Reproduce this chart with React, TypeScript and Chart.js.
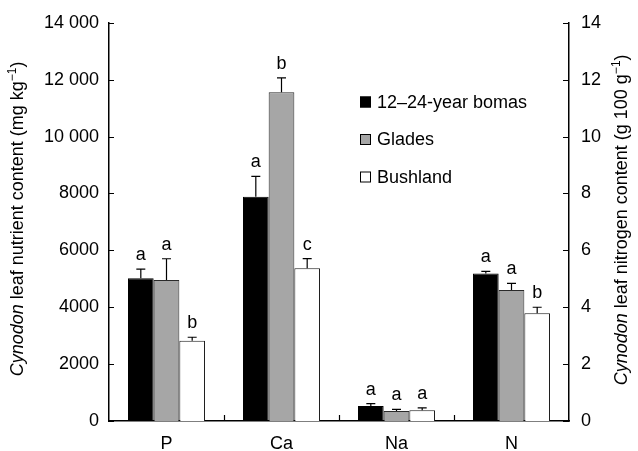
import React, { useEffect, useRef } from "react";
import { Chart, registerables } from "chart.js";

Chart.register(...registerables);

const categories = ["P", "Ca", "Na", "N"];
const seriesNames = ["12\u201324-year bomas", "Glades", "Bushland"];

// P, Ca, Na in mg kg-1 (left axis)
const bomasMg = [5020, 7880, 530];
const gladesMg = [4955, 11560, 355];
const bushMg = [2820, 5370, 375];
const bomasMgSe = [320, 720, 80];
const gladesMgSe = [750, 505, 55];
const bushMgSe = [125, 340, 85];

// N in g 100 g-1 (right axis): bomas, glades, bushland
const nitrogenValues = [5.19, 4.61, 3.79];
const nitrogenSe = [0.07, 0.23, 0.21];

// significance letters per series across P, Ca, Na, N
const bomasLetters = ["a", "a", "a", "a"];
const gladesLetters = ["a", "b", "a", "a"];
const bushLetters = ["b", "c", "a", "b"];

const leftTickLabels = ["0", "2000", "4000", "6000", "8000", "10 000", "12 000", "14 000"];
const rightTickLabels = ["0", "2", "4", "6", "8", "10", "12", "14"];

const FAMILY = "'Liberation Sans', Arial, Helvetica, sans-serif";
const FILLS = ["#000000", "#a6a6a6", "#ffffff"];
const BORDERS = ["#000000", "#2a2a2a", "#1a1a1a"];

function drawRotatedTitle(ctx: CanvasRenderingContext2D, cx: number, cy: number, italic: string, rest: string, sup: string, tail: string) {
  const size = 18;
  const supSize = 12;
  ctx.save();
  ctx.fillStyle = "#000";
  ctx.textBaseline = "alphabetic";
  ctx.font = `italic ${size}px ${FAMILY}`;
  const w1 = ctx.measureText(italic).width;
  ctx.font = `${size}px ${FAMILY}`;
  const w2 = ctx.measureText(rest).width;
  const w4 = ctx.measureText(tail).width;
  ctx.font = `${supSize}px ${FAMILY}`;
  const w3 = ctx.measureText(sup).width;
  const total = w1 + w2 + w3 + w4;
  ctx.translate(cx, cy);
  ctx.rotate(-Math.PI / 2);
  let x = -total / 2;
  const base = 6;
  ctx.font = `italic ${size}px ${FAMILY}`;
  ctx.fillText(italic, x, base);
  x += w1;
  ctx.font = `${size}px ${FAMILY}`;
  ctx.fillText(rest, x, base);
  x += w2;
  ctx.font = `${supSize}px ${FAMILY}`;
  ctx.fillText(sup, x, base - 7);
  x += w3;
  ctx.font = `${size}px ${FAMILY}`;
  ctx.fillText(tail, x, base);
  ctx.restore();
}

const decorPlugin = {
  id: "decor",
  afterDatasetsDraw(chart: any) {
    const ctx: CanvasRenderingContext2D = chart.ctx;
    const y = chart.scales.y;
    const y2 = chart.scales.y2;
    const mgSe = [bomasMgSe, gladesMgSe, bushMgSe];
    const letters = [bomasLetters, gladesLetters, bushLetters];
    ctx.save();
    ctx.strokeStyle = "#000";
    ctx.fillStyle = "#000";
    ctx.lineWidth = 1.2;
    ctx.font = `18px ${FAMILY}`;
    ctx.textAlign = "center";
    ctx.textBaseline = "alphabetic";
    chart.data.datasets.forEach((ds: any, di: number) => {
      const meta = chart.getDatasetMeta(di);
      const s = di % 3;
      const isN = di >= 3;
      ds.data.forEach((v: number | null, idx: number) => {
        if (v === null || v === undefined) return;
        const el = meta.data[idx];
        const se = isN ? nitrogenSe[s] : mgSe[s][idx];
        const scale = isN ? y2 : y;
        const top = scale.getPixelForValue(v + se);
        ctx.beginPath();
        ctx.moveTo(el.x, el.y);
        ctx.lineTo(el.x, top);
        ctx.moveTo(el.x - 4.5, top);
        ctx.lineTo(el.x + 4.5, top);
        ctx.stroke();
        ctx.fillText(letters[s][idx], el.x, top - 9);
      });
    });
    ctx.restore();
  },
  afterDraw(chart: any) {
    const ctx: CanvasRenderingContext2D = chart.ctx;
    const area = chart.chartArea;
    const y = chart.scales.y;
    const y2 = chart.scales.y2;
    const x = chart.scales.x;
    ctx.save();
    ctx.strokeStyle = "#000";
    ctx.lineWidth = 1.2;
    ctx.beginPath();
    y.ticks.forEach((t: any) => {
      const py = Math.round(y.getPixelForValue(t.value)) + 0.5;
      ctx.moveTo(area.left, py);
      ctx.lineTo(area.left + 5, py);
    });
    y2.ticks.forEach((t: any) => {
      const py = Math.round(y2.getPixelForValue(t.value)) + 0.5;
      ctx.moveTo(area.right, py);
      ctx.lineTo(area.right - 6, py);
    });
    for (let i = 0; i < categories.length - 1; i++) {
      const px = Math.round((x.getPixelForValue(i) + x.getPixelForValue(i + 1)) / 2) + 0.5;
      ctx.moveTo(px, area.bottom);
      ctx.lineTo(px, area.bottom - 6);
    }
    ctx.stroke();

    // legend
    const lx = 360;
    const rows = [102, 139.5, 177];
    ctx.font = `18px ${FAMILY}`;
    ctx.textBaseline = "middle";
    ctx.textAlign = "left";
    rows.forEach((ry, i) => {
      ctx.fillStyle = FILLS[i];
      ctx.fillRect(lx, ry - 5.5, 11, 11);
      ctx.strokeStyle = "#000";
      ctx.lineWidth = 1;
      ctx.strokeRect(lx + 0.5, ry - 5, 10, 10);
      ctx.fillStyle = "#000";
      ctx.fillText(seriesNames[i], 377, ry + 1);
    });
    ctx.restore();

    const cy = (area.top + area.bottom) / 2;
    drawRotatedTitle(ctx, 17, cy - 3, "Cynodon", " leaf nutrient content (mg kg", "\u22121", ")");
    drawRotatedTitle(ctx, 621, cy - 2, "Cynodon", " leaf nitrogen content (g 100 g", "\u22121", ")");
  },
};

export default function App() {
  const ref = useRef<HTMLCanvasElement | null>(null);
  useEffect(() => {
    if (!ref.current) return;
    const mgSets = [bomasMg, gladesMg, bushMg];
    const datasets: any[] = [];
    mgSets.forEach((arr, i) => {
      datasets.push({
        label: seriesNames[i],
        data: [...arr, null],
        yAxisID: "y",
        backgroundColor: FILLS[i],
        borderColor: BORDERS[i],
        borderWidth: 1,
        skipNull: true,
      });
    });
    nitrogenValues.forEach((v, i) => {
      datasets.push({
        label: seriesNames[i] + " N",
        data: [null, null, null, v],
        yAxisID: "y2",
        backgroundColor: FILLS[i],
        borderColor: BORDERS[i],
        borderWidth: 1,
        skipNull: true,
      });
    });
    const chart = new Chart(ref.current, {
      type: "bar",
      data: { labels: categories, datasets },
      options: {
        animation: false,
        responsive: false,
        maintainAspectRatio: false,
        devicePixelRatio: 1,
        layout: { padding: { top: 17, left: 0, right: 0, bottom: 0 } },
        datasets: { bar: { barPercentage: 1, categoryPercentage: 0.67 } },
        plugins: { legend: { display: false }, tooltip: { enabled: false } },
        scales: {
          x: {
            type: "category",
            grid: { display: false, drawTicks: false },
            border: { display: true, color: "#000", width: 1.5 },
            ticks: { color: "#000", font: { family: FAMILY, size: 18 }, padding: 12 },
            afterFit: (s: any) => { s.height = 30; },
          },
          y: {
            position: "left",
            min: 0,
            max: 14000,
            grid: { display: false, drawTicks: false },
            border: { display: true, color: "#000", width: 1.5 },
            ticks: {
              stepSize: 2000,
              color: "#000",
              font: { family: FAMILY, size: 18 },
              padding: 10,
              callback: (_v: any, i: number) => leftTickLabels[i],
            },
            afterFit: (s: any) => { s.width = 109; },
          },
          y2: {
            position: "right",
            min: 0,
            max: 14,
            grid: { display: false, drawTicks: false },
            border: { display: true, color: "#000", width: 1.5 },
            ticks: {
              stepSize: 2,
              color: "#000",
              font: { family: FAMILY, size: 18 },
              padding: 12,
              callback: (_v: any, i: number) => rightTickLabels[i],
            },
            afterFit: (s: any) => { s.width = 69; },
          },
        },
      },
      plugins: [decorPlugin],
    });
    return () => chart.destroy();
  }, []);
  return (
    <div style={{ position: "fixed", left: 0, top: 0, width: 638, height: 451, background: "#fff" }}>
      <canvas ref={ref} width={638} height={451} style={{ width: 638, height: 451, display: "block" }} />
    </div>
  );
}
